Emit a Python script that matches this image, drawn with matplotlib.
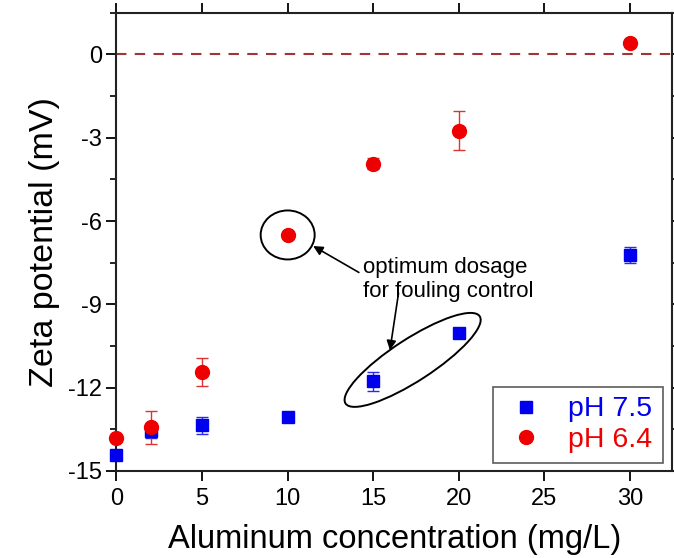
import numpy as np
import matplotlib.pyplot as plt
from matplotlib.patches import Ellipse
from matplotlib.lines import Line2D
from matplotlib.transforms import ScaledTranslation
from matplotlib.ticker import MultipleLocator

plt.rcParams['font.family'] = ['Liberation Sans', 'DejaVu Sans']
plt.rcParams['axes.unicode_minus'] = False

# Zeta potential vs aluminum dose at two pH values.
al_dose = [0, 2, 5, 10, 15, 20, 30]
zeta_ph75 = [-14.44, -13.57, -13.36, -13.07, -11.77, -10.04, -7.22]
err_ph75 = [0.15, 0.25, 0.3, 0.1, 0.35, 0.1, 0.3]
zeta_ph64 = [-13.83, -13.43, -11.44, -6.5, -3.93, -2.74, 0.43]
err_ph64 = [0.1, 0.6, 0.5, 0.1, 0.2, 0.7, 0.1]

blue = '#0000ee'
red = '#ee0000'

fig = plt.figure(figsize=(6.74, 5.58), dpi=100)
ax = fig.add_axes([0.1728, 0.156, 0.8242, 0.821])

ax.axhline(0, color='#a03535', ls=(0, (5, 4)), lw=1.5, zorder=1)

ax.errorbar(al_dose, zeta_ph75, yerr=err_ph75, fmt='s', color=blue, ms=8.5,
            ecolor='#2a2aee', elinewidth=1, capsize=4, capthick=1,
            zorder=3, clip_on=False)
ax.errorbar(al_dose, zeta_ph64, yerr=err_ph64, fmt='o', color=red, ms=10,
            ecolor='#dd3333', elinewidth=1, capsize=4, capthick=1,
            zorder=3, clip_on=False)

ax.set_xlim(0, 32.45)
ax.set_ylim(-15, 1.5)
ax.set_xticks(np.arange(0, 31, 5))
ax.set_yticks(np.arange(-15, 1, 3))
ax.yaxis.set_minor_locator(MultipleLocator(1.5))

ax.tick_params(axis='both', which='major', direction='out', length=7, width=1.3,
               labelsize=17, top=True, right=True)
ax.tick_params(axis='y', which='minor', direction='out', length=4, width=1.2, right=True)
ax.tick_params(axis='x', which='major', pad=5)
for s in ax.spines.values():
    s.set_linewidth(1.5)
    s.set_color('#222222')

ax.set_xlabel('Aluminum concentration (mg/L)', fontsize=23.5, labelpad=10)
ax.set_ylabel('Zeta potential (mV)', fontsize=24.5, labelpad=6)

# circled points, drawn in inches around a data anchor
def ring(x, y, w, h, angle):
    tr = fig.dpi_scale_trans + ScaledTranslation(x, y, ax.transData)
    ax.add_patch(Ellipse((0, 0), w, h, angle=angle, transform=tr, fill=False,
                         ec='black', lw=1.4, zorder=4))

ring(10, -6.5, 0.54, 0.49, 0)
ring(17.3, -11.0, 1.6, 0.42, 33)

ax.text(14.4, -7.3, 'optimum dosage\nfor fouling control', fontsize=16,
        va='top', ha='left', linespacing=1.2)
arrow = dict(arrowstyle='-|>', color='black', lw=1.2, mutation_scale=14)
ax.annotate('', xy=(11.35, -6.85), xytext=(14.3, -7.9), arrowprops=arrow)
ax.annotate('', xy=(15.95, -10.75), xytext=(16.5, -8.5), arrowprops=arrow)

handles = [Line2D([], [], ls='none', marker='s', color=blue, ms=8.5),
           Line2D([], [], ls='none', marker='o', color=red, ms=10)]
leg = ax.legend(handles, ['pH 7.5', 'pH 6.4'], loc='lower right', fontsize=20.5,
                frameon=True, fancybox=False, handletextpad=0.7, borderpad=0.35,
                bbox_to_anchor=(0.983, 0.018), handlelength=1.6, labelspacing=0.15,
                borderaxespad=0)
leg.get_frame().set_edgecolor('#333333')
leg.get_frame().set_linewidth(1.2)
for txt, c in zip(leg.get_texts(), [blue, red]):
    txt.set_color(c)

fig.savefig('out.png', dpi=100)
